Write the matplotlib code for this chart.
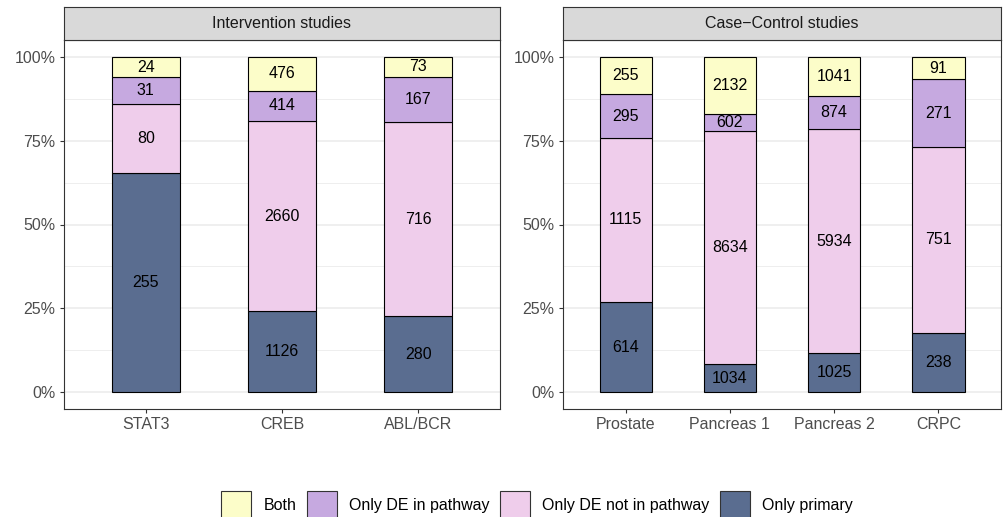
import matplotlib.pyplot as plt
from matplotlib.patches import Patch
from matplotlib.ticker import FixedLocator, PercentFormatter
import numpy as np

plt.rcParams["font.family"] = ["Liberation Sans", "DejaVu Sans"]

# counts per category, stacked bottom -> top
categories = ["Only primary", "Only DE not in pathway", "Only DE in pathway", "Both"]
colors = {
    "Both": "#FCFDC9",
    "Only DE in pathway": "#C6A9E0",
    "Only DE not in pathway": "#EFCDEB",
    "Only primary": "#5A6D90",
}

intervention_labels = ["STAT3", "CREB", "ABL/BCR"]
intervention_primary = [255, 1126, 280]
intervention_not_pathway = [80, 2660, 716]
intervention_in_pathway = [31, 414, 167]
intervention_both = [24, 476, 73]

casecontrol_labels = ["Prostate", "Pancreas 1", "Pancreas 2", "CRPC"]
casecontrol_primary = [614, 1034, 1025, 238]
casecontrol_not_pathway = [1115, 8634, 5934, 751]
casecontrol_in_pathway = [295, 602, 874, 271]
casecontrol_both = [255, 2132, 1041, 91]

FS = 11.5
W, H = 1007, 517
fig = plt.figure(figsize=(W / 100, H / 100), dpi=100)


def px_axes(left, right, top, bottom):
    return fig.add_axes([left / W, 1 - bottom / H, (right - left) / W, (bottom - top) / H])


def draw_panel(left, right, title, labels, series):
    ax = px_axes(left, right, 40, 409)
    counts = np.array(series, dtype=float)
    props = counts / counts.sum(axis=0)
    x = np.arange(1, len(labels) + 1)
    bottom = np.zeros(len(labels))
    for name, c, p in zip(categories, counts, props):
        ax.bar(x, p, bottom=bottom, width=0.5, color=colors[name],
               edgecolor="black", linewidth=0.8, zorder=3)
        for xi, b, pi, ci in zip(x, bottom, p, c):
            ax.text(xi, b + pi / 2, f"{int(ci)}", ha="center", va="center",
                    fontsize=FS, color="black", zorder=4)
        bottom += p

    ax.set_xlim(0.4, len(labels) + 0.6)
    ax.set_ylim(-0.05, 1.05)
    ax.set_xticks(x)
    ax.set_xticklabels(labels)
    ax.yaxis.set_major_locator(FixedLocator([0, 0.25, 0.5, 0.75, 1.0]))
    ax.yaxis.set_major_formatter(PercentFormatter(1.0, decimals=0))
    ax.yaxis.set_minor_locator(FixedLocator([0.125, 0.375, 0.625, 0.875]))
    ax.grid(True, axis="y", which="major", color="#EBEBEB", linewidth=1.1, zorder=0)
    ax.grid(True, axis="y", which="minor", color="#EBEBEB", linewidth=0.6, zorder=0)
    ax.tick_params(axis="both", which="major", length=3, width=0.8, color="#333333",
                   labelsize=FS, labelcolor="#4D4D4D", pad=3)
    ax.tick_params(axis="y", which="minor", length=0)
    for s in ax.spines.values():
        s.set_color("#333333")
        s.set_linewidth(0.8)

    # facet strip
    strip = px_axes(left, right, 7, 40)
    strip.set_facecolor("#D9D9D9")
    strip.set_xticks([])
    strip.set_yticks([])
    for s in strip.spines.values():
        s.set_color("#333333")
        s.set_linewidth(0.8)
    strip.text(0.5, 0.5, title, ha="center", va="center", fontsize=FS,
               color="#1A1A1A", transform=strip.transAxes)
    return ax


draw_panel(64, 500, "Intervention studies", intervention_labels,
           [intervention_primary, intervention_not_pathway,
            intervention_in_pathway, intervention_both])
draw_panel(563, 1001, "Case\u2212Control studies", casecontrol_labels,
           [casecontrol_primary, casecontrol_not_pathway,
            casecontrol_in_pathway, casecontrol_both])

legend_order = ["Both", "Only DE in pathway", "Only DE not in pathway", "Only primary"]
handles = [Patch(facecolor=colors[n], edgecolor="#333333", linewidth=0.8, label=n)
           for n in legend_order]
fig.legend(handles=handles, loc="center", ncol=4, frameon=False,
           bbox_to_anchor=(537 / W, 12 / H), fontsize=FS,
           handlelength=1.9, handleheight=2.3, handletextpad=0.75,
           columnspacing=0.65, borderpad=0)

fig.savefig("out.png", dpi=100)
